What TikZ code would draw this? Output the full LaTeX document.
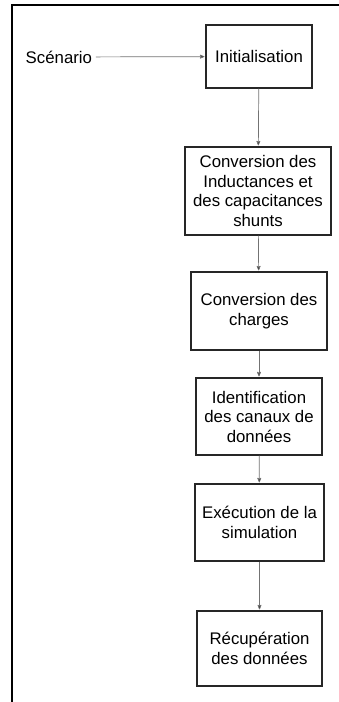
\documentclass[tikz,border=0pt]{standalone}
\usepackage{fontspec}
\setmainfont{Liberation Sans}
\usetikzlibrary{arrows}

\begin{document}
\begin{tikzpicture}[x=1pt,y=-1pt,>=stealth',thick,
	etape/.style={rectangle, draw=black!85, line width=1.2pt, align=center, inner sep=1pt,
		font=\fontsize{16.8}{19.5}\selectfont},
	fleche/.style={->, draw=black!55, line width=0.7pt, shorten >=1pt}]
	\useasboundingbox (0,0) rectangle (339,702);
	% cadre
	\draw[line width=2pt] (12,760) -- (12,5) -- (400,5);

	\node[anchor=west, font=\fontsize{16.8}{19.5}\selectfont] (S) at (22,57) {Scénario};

	\node[etape, minimum width=106, minimum height=63] (I) at (259,56.5) {Initialisation};
	\node[etape, minimum width=146, minimum height=88] (C) at (258,191)
		{Conversion des\\Inductances et\\des capacitances\\shunts};
	\node[etape, minimum width=136, minimum height=78] (Q) at (259,311) {Conversion des\\charges};
	\node[etape, minimum width=126, minimum height=77] (D) at (259,416.5)
		{Identification\\des canaux de\\données};
	\node[etape, minimum width=129, minimum height=77] (E) at (259.5,522.5) {Exécution de la\\simulation};
	\node[etape, minimum width=125, minimum height=75] (R) at (259.5,648.5) {Récupération\\des données};

	\path[fleche] (S) edge (I)
		(I) edge (C)
		(C) edge (Q)
		(Q) edge (D)
		(D) edge (E)
		(E) edge (R);
\end{tikzpicture}
\end{document}
